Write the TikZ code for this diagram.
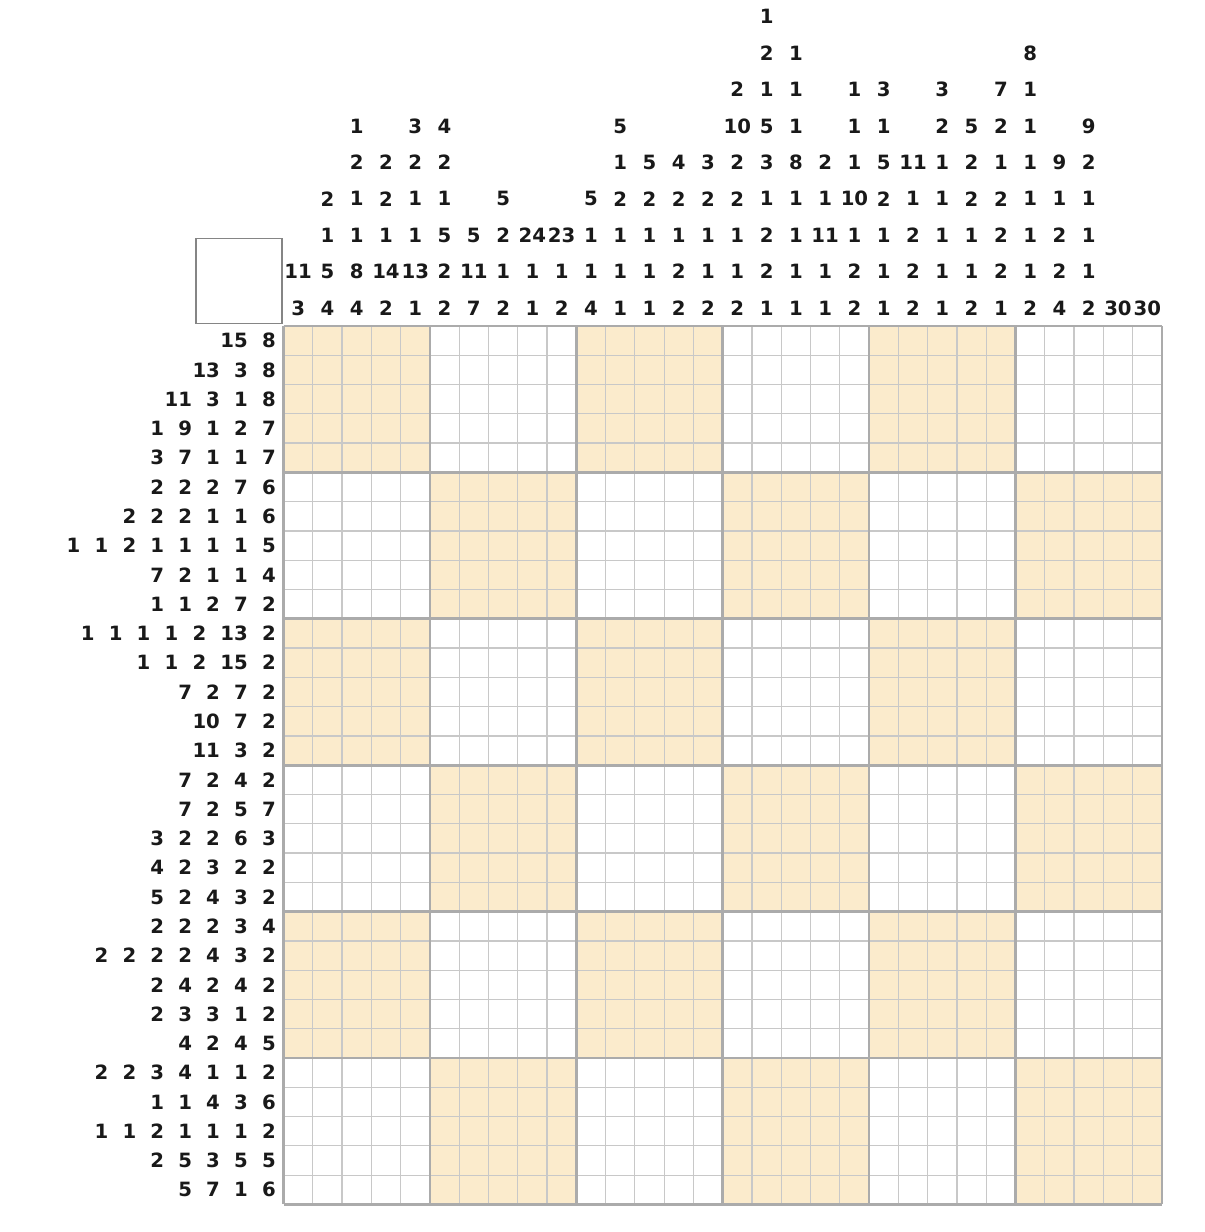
\documentclass[tikz,border=0pt]{standalone}
\usepackage{fontspec}
\setmainfont{DejaVu Sans}
\definecolor{shadefill}{HTML}{FBEBCC}
\definecolor{thinline}{HTML}{C8C8C8}
\definecolor{thickline}{HTML}{ABABAB}
\definecolor{boxline}{HTML}{858585}
\begin{document}
\begin{tikzpicture}[x=0.025cm,y=-0.025cm,
  clue/.style={font=\fontsize{14}{14}\selectfont\bfseries, inner sep=0pt, text=black!90},
  rowclue/.style={clue, anchor=east, execute at begin node={\spaceskip=10.1pt\relax}},
  thingrid/.style={draw=thinline, line width=0.9pt},
  thickgrid/.style={draw=thickline, line width=1.9pt}]
\useasboundingbox (0,0) rectangle (1205,1232);
\def\L{283.5}\def\T{326}\def\C{29.28}
% checkerboard shading
\foreach \bi in {0,...,5} {
  \foreach \bj in {0,...,5} {
    \pgfmathtruncatemacro{\parity}{mod(\bi+\bj,2)}
    \ifnum\parity=0
      \fill[shadefill] (\L+5*\C*\bj, \T+5*\C*\bi) rectangle ++(5*\C,5*\C);
    \fi
  }
}
% thin grid
\foreach \i in {0,...,30} {
  \draw[thingrid] (\L+\i*\C,\T) -- (\L+\i*\C,\T+30*\C);
  \draw[thingrid] (\L,\T+\i*\C) -- (\L+30*\C,\T+\i*\C);
}
% thick grid
\foreach \i in {0,5,...,30} {
  \draw[thickgrid] (\L+\i*\C,\T) -- (\L+\i*\C,\T+30*\C);
  \draw[thickgrid] (\L,\T+\i*\C) -- (\L+30*\C,\T+\i*\C);
}
% corner box
\draw[draw=boxline, line width=1.4pt] (196,238.5) rectangle (282,323.5);
% column clues (listed bottom first)
\foreach \c [count=\i from 0] in {
  {3,11},{4,5,1,2},{4,8,1,1,2,1},{2,14,1,2,2},{1,13,1,1,2,3},
  {2,2,5,1,2,4},{7,11,5},{2,1,2,5},{1,1,24},{2,1,23},
  {4,1,1,5},{1,1,1,2,1,5},{1,1,1,2,5},{2,2,1,2,4},{2,1,1,2,3},
  {2,1,1,2,2,10,2},{1,2,2,1,3,5,1,2,1},{1,1,1,1,8,1,1,1},{1,1,11,1,2},{2,2,1,10,1,1,1},
  {1,1,1,2,5,1,3},{2,2,2,1,11},{1,1,1,1,1,2,3},{2,1,1,2,2,5},{1,2,2,2,1,2,7},
  {2,1,1,1,1,1,1,8},{4,2,2,1,9},{2,1,1,1,2,9},{30},{30}} {
  \foreach \v [count=\k from 0] in \c {
    \node[clue] (c\i-\k) at (\L+\i*\C+0.5*\C, 308-36.4*\k) {\v};
  }
}
% row clues
\foreach \r [count=\j from 0] in {
  {15 8},{13 3 8},{11 3 1 8},{1 9 1 2 7},{3 7 1 1 7},
  {2 2 2 7 6},{2 2 2 1 1 6},{1 1 2 1 1 1 1 5},{7 2 1 1 4},{1 1 2 7 2},
  {1 1 1 1 2 13 2},{1 1 2 15 2},{7 2 7 2},{10 7 2},{11 3 2},
  {7 2 4 2},{7 2 5 7},{3 2 2 6 3},{4 2 3 2 2},{5 2 4 3 2},
  {2 2 2 3 4},{2 2 2 2 4 3 2},{2 4 2 4 2},{2 3 3 1 2},{4 2 4 5},
  {2 2 3 4 1 1 2},{1 1 4 3 6},{1 1 2 1 1 1 2},{2 5 3 5 5},{5 7 1 6}} {
  \node[rowclue] (r\j) at (276, \T+\j*\C+0.5*\C) {\r};
}
\end{tikzpicture}
\end{document}
